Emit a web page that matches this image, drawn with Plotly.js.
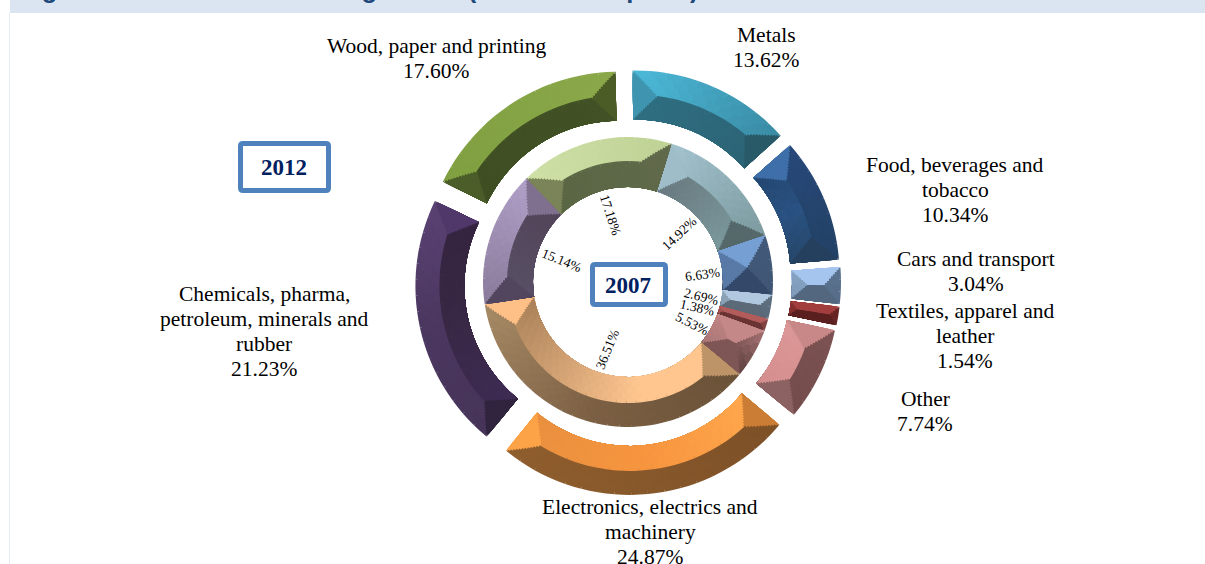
<!DOCTYPE html>
<html>
<head>
<meta charset="utf-8">
<script src="https://cdn.plot.ly/plotly-3.0.1.min.js"></script>
<style>html,body{margin:0;padding:0;background:#fff;overflow:hidden}#chart{width:1205px;height:564px}</style>
</head>
<body>
<div id="chart"></div>
<script>
// Sector shares, clockwise from the start angle of each ring
const sectors = [
  ['Metals'],
  ['Food, beverages and', 'tobacco'],
  ['Cars and transport'],
  ['Textiles, apparel and', 'leather'],
  ['Other'],
  ['Electronics, electrics and', 'machinery'],
  ['Chemicals, pharma,', 'petroleum, minerals and', 'rubber'],
  ['Wood, paper and printing']
];
const share2012 = [13.62, 10.34, 3.04, 1.54, 7.74, 24.87, 21.23, 17.60];
const share2007 = [14.92, 6.63, 2.69, 1.38, 5.53, 36.51, 15.14, 17.18];

// Facet colours of the bevelled slices: outer and inner faces run start to end
const bevel2012 = [
  {outer: ['#4cbad9', '#3a8aa3'], inner: ['#2f6f82', '#2c6475'], start: '#3f95af', end: '#295a68'},
  {outer: ['#27497a', '#234164'], inner: ['#24466f', '#2a5282', '#264668'], start: '#3f6fa9', end: '#25405f'},
  {outer: ['#5a7390', '#566c88'], inner: ['#86a2c2', '#7f9bbb'], start: '#a5c5ef', end: '#53677f'},
  {outer: ['#6c2626', '#632222'], inner: ['#8e3232', '#7e2c2c'], start: '#a23e3e', end: '#5a1f1f'},
  {outer: ['#7c5252', '#744c4c'], inner: ['#dc9898', '#d48e8e'], start: '#c88888', end: '#8c6262'},
  {outer: ['#7d5027', '#87582b', '#8f5e2e'], inner: ['#ffa84e', '#f7953f', '#e8903f'], start: '#cb7d36', end: '#fca348'},
  {outer: ['#473458', '#4b3760', '#5a4273'], inner: ['#3f2c55', '#392845', '#35243f'], start: '#30243f', end: '#50386a'},
  {outer: ['#7f9f40', '#8ba94a'], inner: ['#3f4f23', '#425226'], start: '#4b5d29', end: '#4c5c26'}
];
const bevel2007 = [
  {outer: ['#a3c3cf', '#7c9a9f'], inner: ['#69787f', '#7b9a9d'], start: '#9fbdc8', end: '#55686a'},
  {outer: ['#43597a', '#3f5674'], inner: ['#5879a6', '#5a7aa6'], start: '#76a0d4', end: '#34496a'},
  {outer: ['#5e7080', '#5a6a7a'], inner: ['#8ba1b5', '#8ba1b5'], start: '#b0c8e0', end: '#5c6a78'},
  {outer: ['#8f4a4a', '#7a3c3c'], inner: ['#a85656', '#a05050'], start: '#b25c5c', end: '#6a3434'},
  {outer: ['#a87272', '#5c3f3f'], inner: ['#c28585', '#a97676'], start: '#c48888', end: '#7f5656'},
  {outer: ['#6a5238', '#7c6044', '#a78a65'], inner: ['#ffc690', '#ffc690', '#d2a274', '#a88058'], start: '#bd9468', end: '#ffc088'},
  {outer: ['#8a7a9a', '#b0a0c8'], inner: ['#585066', '#524459'], start: '#52465e', end: '#80708f'},
  {outer: ['#cfe0a6', '#bfd296'], inner: ['#5a6644', '#5f6a4a'], start: '#7a8458', end: '#60694a'}
];

const W = 1205, H = 564;
const CX = 628, CY = 282;

function hexToRgb(h) { return [1, 3, 5].map(i => parseInt(h.substr(i, 2), 16)); }
function ramp(stops, t) {
  const p = Math.min(Math.max(t, 0), 1) * (stops.length - 1);
  const i = Math.min(Math.floor(p), stops.length - 2);
  const a = hexToRgb(stops[i]), b = hexToRgb(stops[i + 1]), f = p - i;
  return 'rgb(' + a.map((v, k) => Math.round(v + (b[k] - v) * f)).join(',') + ')';
}

// One slice is a stack of thinner and thinner pies, painted from the rim inwards.
// Each pie holds the two end caps, the graded middle and a clear remainder, so the
// mitred bevel comes out of the pie geometry alone.
function sliceTraces(startDeg, sweepDeg, pal, ring) {
  const out = [];
  const midRad = (startDeg + sweepDeg / 2) * Math.PI / 180;
  const ox = ring.explode * Math.sin(midRad), oy = -ring.explode * Math.cos(midRad);
  const ridge = (ring.rIn + ring.rOut) / 2;
  for (let r = ring.rOut; r > ring.rIn + 0.01; r -= ring.step) {
    const c = r - ring.step / 2;
    const inset = Math.min(c - ring.rIn, ring.rOut - c);
    const cap = Math.min(inset / c * 180 / Math.PI, sweepDeg / 2);
    const face = c > ridge ? pal.outer : pal.inner;
    const midSweep = sweepDeg - 2 * cap;
    const n = midSweep > 0.01 ? Math.max(1, Math.ceil(midSweep / ring.gradStep)) : 0;
    const values = [cap], colors = [pal.start];
    for (let j = 0; j < n; j++) {
      values.push(midSweep / n);
      colors.push(ramp(face, (cap + (j + 0.5) * midSweep / n) / sweepDeg));
    }
    values.push(cap, 360 - sweepDeg);
    colors.push(pal.end, 'rgba(0,0,0,0)');
    out.push({
      type: 'pie', sort: false, direction: 'clockwise', rotation: startDeg,
      values, hole: ring.rIn / r, textinfo: 'none', hoverinfo: 'skip', showlegend: false,
      marker: {colors, line: {width: 0}},
      domain: {
        x: [(CX + ox - r) / W, (CX + ox + r) / W],
        y: [1 - (CY + oy + r) / H, 1 - (CY + oy - r) / H]
      }
    });
  }
  return out;
}

function ringTraces(shares, bevels, rotation, ring) {
  const total = shares.reduce((a, b) => a + b, 0);
  let angle = rotation;
  const traces = [];
  shares.forEach((v, i) => {
    const sweep = v / total * 360;
    traces.push(...sliceTraces(angle, sweep, bevels[i], ring));
    angle += sweep;
  });
  return traces;
}

const data = [
  ...ringTraces(share2012, bevel2012, -0.8, {rIn: 146, rOut: 195, explode: 18, step: 2, gradStep: 5}),
  ...ringTraces(share2007, bevel2007, 17.5, {rIn: 95, rOut: 145, explode: 0, step: 2, gradStep: 5})
];

const serif = 'Liberation Serif, Times New Roman, serif';
function label(px, py, text, size, angle, extra) {
  return Object.assign({
    xref: 'paper', yref: 'paper', x: px / W, y: 1 - py / H, text,
    showarrow: false, xanchor: 'center', yanchor: 'middle', align: 'center',
    textangle: angle || 0, font: {family: serif, size, color: '#000'}
  }, extra || {});
}

// Outer ring captions: sector name above its share, one annotation per line
const pct = v => v.toFixed(2) + '%';
const captionSpots = [[766, 35], [955, 165], [976, 259], [965, 311], [925, 399], [650, 507], [264, 294], [436, 46]];
const LINE = 25;
const outerLabels = sectors.flatMap((lines, i) =>
  [...lines, pct(share2012[i])].map((t, k) =>
    label(captionSpots[i][0], captionSpots[i][1] + k * LINE, t, 21.5)));

// Inner ring percentages sit slanted just inside the hole
const innerSpots = [[679, 233, -43], [702, 274, -8], [701, 296, 14], [697, 307, 13], [692, 323, 27], [607, 349, -68], [562, 260, 22], [611, 215, 72]];
const innerLabels = share2007.map((v, i) => label(innerSpots[i][0], innerSpots[i][1], pct(v), 13.5, innerSpots[i][2]));

// Year tags: white rectangle with softly rounded corners
function yearBox(x0, y0, x1, y1) {
  const X = v => (v / W).toFixed(5), Y = v => (1 - v / H).toFixed(5), c = 2.5;
  return {
    type: 'path', xref: 'paper', yref: 'paper', layer: 'above',
    path: `M ${X(x0 + c)} ${Y(y0)} L ${X(x1 - c)} ${Y(y0)} Q ${X(x1)} ${Y(y0)} ${X(x1)} ${Y(y0 + c)} ` +
          `L ${X(x1)} ${Y(y1 - c)} Q ${X(x1)} ${Y(y1)} ${X(x1 - c)} ${Y(y1)} ` +
          `L ${X(x0 + c)} ${Y(y1)} Q ${X(x0)} ${Y(y1)} ${X(x0)} ${Y(y1 - c)} ` +
          `L ${X(x0)} ${Y(y0 + c)} Q ${X(x0)} ${Y(y0)} ${X(x0 + c)} ${Y(y0)} Z`,
    line: {color: '#4f81bd', width: 5}, fillcolor: '#ffffff'
  };
}

const layout = {
  width: W, height: H, margin: {l: 0, r: 0, t: 0, b: 0},
  paper_bgcolor: '#ffffff', plot_bgcolor: '#ffffff', hovermode: false,
  shapes: [
    {type: 'rect', xref: 'paper', yref: 'paper', x0: 10 / W, x1: 1, y0: 1 - 13 / H, y1: 1,
     fillcolor: '#dbe5f1', line: {width: 0}, layer: 'below'},
    {type: 'line', xref: 'paper', yref: 'paper', x0: 9.5 / W, x1: 9.5 / W, y0: 0, y1: 1 - 13 / H,
     line: {color: '#e4ebf4', width: 1}, layer: 'below'},
    yearBox(240.5, 143.5, 328.5, 190.5),
    yearBox(592.5, 264.5, 665.5, 304.5)
  ],
  annotations: [
    label(16.6, -11, 'Figure 5: Total manufacturing sector (% of total exports)', 25.5, 0,
      {xanchor: 'left', font: {family: 'Liberation Sans, Arial, sans-serif', size: 25.5, color: '#1f497d', weight: 700}}),
    ...outerLabels,
    ...innerLabels,
    label(284, 167, '<b>2012</b>', 23, 0, {font: {family: serif, size: 23, color: '#002060'}}),
    label(628, 285, '<b>2007</b>', 23, 0, {font: {family: serif, size: 23, color: '#002060'}})
  ]
};

Plotly.newPlot('chart', data, layout, {staticPlot: true, displayModeBar: false});
</script>
</body>
</html>
